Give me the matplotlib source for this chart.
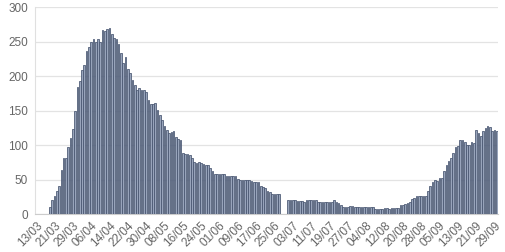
import numpy as np
import pandas as pd
import matplotlib
matplotlib.use("Agg")
import matplotlib.pyplot as plt

start_date = "2020-03-13"

# daily values, 13/03 onwards (0 = no bar)
spring = [
    0, 0, 0, 0, 0, 0, 11, 20, 26, 33, 41, 64, 82, 82, 97, 111, 124, 149, 184, 193,
    209, 216, 236, 242, 250, 254, 249, 253, 249, 267, 265, 268, 270, 261, 255, 253,
    246, 234, 219, 228, 211, 204, 195, 187, 180, 183, 180, 180, 177, 166, 159, 159,
    161, 151, 144, 136, 128, 122, 117, 119, 121, 112, 109, 108,
]
may_june = [
    88, 87, 87, 86, 81, 75, 74, 75, 74, 73, 71, 71, 67, 63, 59, 59, 59, 59, 59, 55,
    55, 55, 55, 55, 51, 50, 50, 50, 50, 50, 48, 47, 47, 47, 41, 39, 38, 34, 32, 30,
    29, 29, 29, 0, 0, 0,
]
summer = [
    20, 20, 20, 20, 19, 19, 19, 18, 20, 20, 20, 20, 20, 18, 18, 18, 18, 18, 18, 18,
    21, 18, 17, 13, 11, 11, 11, 12, 12, 11, 11, 11, 11, 11, 11, 10, 10, 10, 8, 8,
    8, 8, 9, 9, 7, 9, 9, 9, 9, 13, 14, 15, 16, 18, 22, 23, 26, 27, 27, 27, 27,
]
autumn = [
    33, 41, 47, 50, 48, 52, 52, 62, 71, 77, 81, 89, 98, 99, 108, 108, 104, 101, 101,
    104, 103, 122, 118, 113, 121, 125, 128, 126, 120, 122, 121,
]

values = np.array(spring + may_june + summer + autumn, dtype=float)
dates = pd.date_range(start_date, periods=len(values), freq="D")
day_labels = [d.strftime("%d/%m") for d in dates]

plt.rcParams["font.family"] = ["Liberation Sans", "DejaVu Sans"]

fig = plt.figure(figsize=(5.05, 2.52), dpi=100)
ax = fig.add_axes([0.0693, 0.1496, 0.9167, 0.8226])

x = np.arange(len(values))
ax.bar(x, values, width=0.72, color="#98a4bb", edgecolor="#46546f",
       linewidth=0.55, zorder=3)

ax.set_xlim(-0.5, len(values) - 0.5)
ax.set_ylim(0, 300)
ax.set_yticks(np.arange(0, 301, 50))
ax.grid(axis="y", color="#e3e3e3", linewidth=0.9, zorder=0)

tick_pos = x[::8]
ax.set_xticks(tick_pos)
ax.set_xticklabels([day_labels[i] for i in tick_pos], rotation=45,
                   ha="right", rotation_mode="anchor")

ax.tick_params(axis="both", length=0, labelsize=8.5, labelcolor="#666666")
ax.tick_params(axis="y", pad=5)
ax.tick_params(axis="x", pad=4)

for side in ["top", "right"]:
    ax.spines[side].set_visible(False)
ax.spines["left"].set_color("#e0e0e0")
ax.spines["bottom"].set_color("#cccccc")
ax.spines["bottom"].set_linewidth(0.8)

fig.savefig("out.png", dpi=100)
